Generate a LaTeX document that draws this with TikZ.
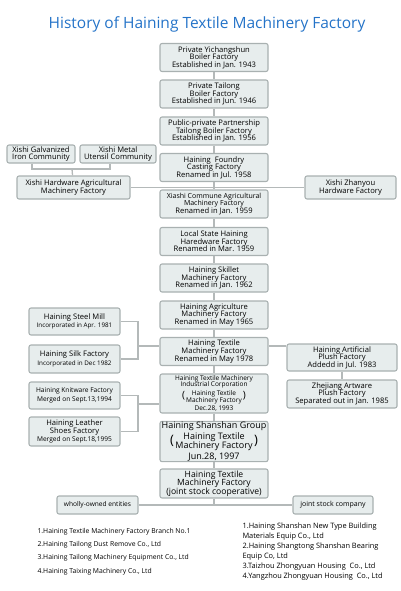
\documentclass[tikz,border=0pt]{standalone}
\usepackage{fontspec}
\setmainfont{Open Sans}
\usetikzlibrary{calc}
\definecolor{boxfill}{HTML}{E7EDED}
\definecolor{boxline}{HTML}{A9B1B1}
\definecolor{linkgray}{HTML}{B4B9B9}
\definecolor{titleblue}{HTML}{2473C8}
\newcommand{\fs}[1]{\fontsize{#1}{#1}\selectfont}
\newcommand{\parenpair}[3]{\mbox{{\fs{#1}(}\,\begin{tabular}[c]{@{}c@{}}\fs{#2}#3\end{tabular}\,{\fs{#1})}}}

\begin{document}
\begin{tikzpicture}[x=1pt, y=-1pt,
  every node/.style={draw=boxline, fill=boxfill, line width=1.1pt, rounded corners=2pt, align=center, inner sep=0pt, font=\fs{7.6}},
  cbox/.style={minimum width=108pt, minimum height=28pt},
  sbox/.style={minimum width=91pt, minimum height=27pt},
  plain/.style={draw=none, fill=none, rounded corners=0pt},
  link/.style={draw=linkgray, line width=1.3pt}]

\useasboundingbox (0,0) rectangle (400,591);
\node[plain, font=\fs{15.5}, text=titleblue] (title) at (207,24) {History of Haining Textile Machinery Factory};

% main line
\node[cbox] (c1) at (214,57.5) {Private Yichangshun\\Boiler Factory\\Established in Jan. 1943};
\node[cbox] (c2) at (214,94) {Private Tailong\\Boiler Factory\\Established in Jun. 1946};
\node[cbox] (c3) at (214,131) {Public-private Partnership\\Tailong Boiler Factory\\Established in Jan. 1956};
\node[cbox] (c4) at (214,167.5) {Haining\ \ Foundry\\Casting Factory\\Renamed in Jul. 1958};
\node[cbox, font=\fs{7}] (c5) at (214,204) {Xiashi Commune Agricultural\\Machinery Factory\\\fs{7.6}Renamed in Jan. 1959};
\node[cbox] (c6) at (214,241.5) {Local State Haining\\Haredware Factory\\Renamed in Mar. 1959};
\node[cbox] (c7) at (214,278) {Haining Skillet\\Machinery Factory\\Renamed in Jan. 1962};
\node[cbox] (c8) at (214,315) {Haining Agriculture\\Machinery Factory\\Renamed in May 1965};
\node[cbox] (c9) at (214,351.5) {Haining Textile\\Machinery Factory\\Renamed in May 1978};
\node[cbox, minimum height=39pt, font=\fs{6.5}] (c10) at (214,393.5) {Haining Textile Machinery\\Industrial Corporation\\[1pt]
  \parenpair{10}{6.5}{Haining Textile\\Machinery Factory}\\[1pt]Dec.28, 1993};
\node[cbox, minimum height=39pt, font=\fs{9}] (c11) at (214,441.5) {Haining Shanshan Group\\[1pt]
  \parenpair{13}{9}{Haining Textile\\Machinery Factory}\\[1pt]Jun.28, 1997};
\node[cbox, minimum height=29pt, font=\fs{8.6}] (c12) at (214,483.5) {Haining Textile\\Machinery Factory\\(joint stock cooperative)};

% side branches
\node[minimum width=68pt, minimum height=18pt] (galv) at (41,154) {Xishi Galvanized\\Iron Community};
\node[minimum width=76pt, minimum height=18pt] (metal) at (118,154) {Xishi Metal\\Utensil Community};
\node[minimum width=113pt, minimum height=23pt] (hardware) at (73.5,187.5) {Xishi Hardware Agricultural\\Machinery Factory};
\node[minimum width=91pt, minimum height=23pt] (zhanyou) at (350.5,187.5) {Xishi Zhanyou\\Hardware Factory};
\node[sbox] (steel) at (74.5,321.5) {Haining Steel Mill\\[1pt]\fs{6.3}Incorporated in Apr. 1981};
\node[sbox, minimum height=28pt] (silk) at (74.5,359) {Haining Silk Factory\\[1pt]\fs{6.3}Incorporated in Dec 1982};
\node[sbox, font=\fs{6.6}] (knit) at (74.5,395.5) {Haining Knitware Factory\\[2pt]Merged on Sept.13,1994};
\node[sbox, minimum height=29pt] (leather) at (74.5,431.5) {Haining Leather\\Shoes Factory\\\fs{6.6}Merged on Sept.18,1995};
\node[minimum width=110pt, minimum height=27pt] (artificial) at (342,357.5) {Haining Artificial\\Plush Factory\\Addedd in Jul. 1983};
\node[minimum width=110pt, minimum height=28pt] (artware) at (342,394) {Zhejiang Artware\\Plush Factory\\Separated out in Jan. 1985};
\node[minimum width=81pt, minimum height=18pt, font=\fs{6.6}] (owned) at (97.5,505) {wholly-owned entities};
\node[minimum width=80pt, minimum height=18pt, font=\fs{7}] (stock) at (333,505) {joint stock company};

\foreach \i [count=\k from 2] in {1,...,11} {
  \draw[link] (c\i) -- (c\k);
}

\coordinate (xj) at (72,169);
\draw[link] ([xshift=-9pt]galv.south) |- (xj) -| ([xshift=-8pt]metal.south);
\draw[link] (xj) -- (hardware);
\draw[link] (hardware) -- (zhanyou);

\coordinate (lj) at (138,346);
\draw[link] (steel) -| (lj) |- (silk);
\draw[link] (lj) -- (lj -| c9.west);
\draw[link] (c9.east |- lj) -- (lj -| artificial.west);
\draw[link] (artificial) -- (artware);

\coordinate (kj) at (138,404);
\draw[link] (knit) -| (kj) |- (leather);
\draw[link] (kj) -- (kj -| c10.west);

\draw[link] (c12) -- (c12.south |- owned);
\draw[link] (owned) -- (stock);

% lists
\node[plain, anchor=north west, align=left, font=\fs{6.8}] (ownedlist) at (37,527.5) {1.Haining Textile Machinery Factory Branch No.1\\[6.5pt]
  2.Haining Tailong Dust Remove Co., Ltd\\[6.5pt]3.Haining Tailong Machinery Equipment Co., Ltd\\[6.5pt]4.Haining Taixing Machinery Co., Ltd};
\node[plain, anchor=north west, align=left, font=\fs{7.4}] (stocklist) at (242,522.5) {1.Haining Shanshan New Type Building\\[2.5pt]
  Materials Equip Co., Ltd\\[2.5pt]2.Haining Shangtong Shanshan Bearing\\[2.5pt]Equip Co, Ltd\\[2.5pt]
  3.Taizhou Zhongyuan Housing\ \ Co., Ltd\\[2.5pt]4.Yangzhou Zhongyuan Housing\ \ Co., Ltd};

\end{tikzpicture}
\end{document}
